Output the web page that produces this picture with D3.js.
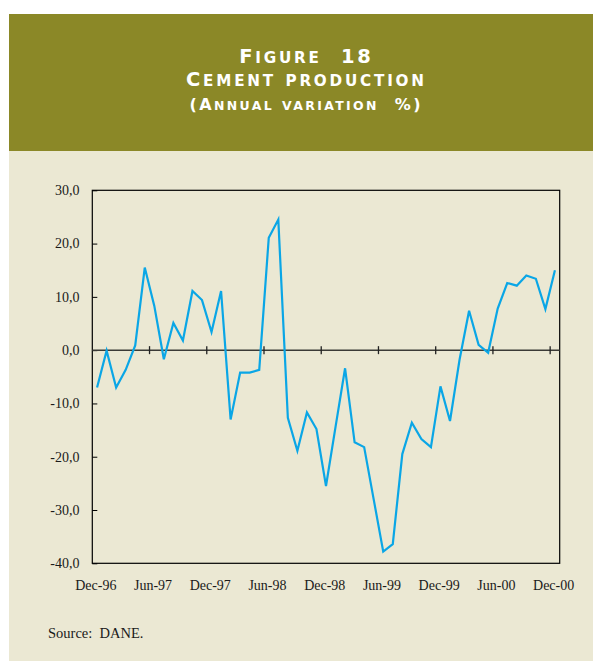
<!DOCTYPE html>
<html>
<head>
<meta charset="utf-8">
<script src="https://cdn.jsdelivr.net/npm/d3@7/dist/d3.min.js"></script>
<style>
  html, body { margin: 0; padding: 0; background: #ffffff; }
  svg { display: block; }
</style>
</head>
<body>
<svg id="chart" width="593" height="661"></svg>
<script>
// ---- data ----
const titleLines = ["Figure  18", "Cement production", "(Annual variation  %)"];
const sourceText = "Source:  DANE.";
const startMonth = new Date(1996, 11, 1);   // Dec-96
const endMonth = new Date(2001, 0, 1);      // exclusive (Jan-01)
const values = [
  -7.0, -0.1, -7.0, -3.7, 0.9, 15.5, 8.3, -1.7, 5.1, 1.8,
  11.1, 9.4, 3.4, 11.1, -13.0, -4.2, -4.2, -3.7, 21.1, 24.5,
  -12.7, -18.9, -11.7, -14.8, -25.5, -14.4, -3.4, -17.3, -18.2, -28.0,
  -37.8, -36.4, -19.5, -13.6, -16.7, -18.2, -6.8, -13.3, -1.8, 7.4,
  1.0, -0.5, 7.8, 12.6, 12.1, 14.0, 13.4, 7.7, 15.0
];
const yTicks = [30, 20, 10, 0, -10, -20, -30, -40];
const xTickLabels = ["Dec-96", "Jun-97", "Dec-97", "Jun-98", "Dec-98", "Jun-99", "Dec-99", "Jun-00", "Dec-00"];

const months = d3.timeMonth.range(startMonth, endMonth);
const fmtMonth = d3.timeFormat("%b-%y");
const data = months.map((m, i) => ({ label: fmtMonth(m), value: values[i] }));

// ---- layout ----
const svg = d3.select("#chart");
const panelX = 9, panelTop = 14, headerBottom = 151, panelBottom = 661, panelRight = 601;
const plot = { left: 92.3, right: 559.7, top: 190.3, bottom: 563.3 };

svg.append("rect").attr("x", panelX).attr("y", headerBottom)
  .attr("width", panelRight - panelX).attr("height", panelBottom - headerBottom)
  .attr("fill", "#ebe8d3");
svg.append("rect").attr("x", panelX).attr("y", panelTop)
  .attr("width", panelRight - panelX).attr("height", headerBottom - panelTop)
  .attr("fill", "#8b8827");

// title (manual small caps)
const titleCfg = [
  { y: 62.7, size: 19.5, len: 131.7 },
  { y: 85.7, size: 19.5, len: 238 },
  { y: 110, size: 16, len: 231 }
];
titleLines.forEach((t, i) => {
  const cfg = titleCfg[i];
  const txt = svg.append("text")
    .attr("x", 305).attr("y", cfg.y)
    .attr("text-anchor", "middle")
    .attr("fill", "#ffffff")
    .attr("font-family", "'DejaVu Sans', sans-serif")
    .attr("font-weight", "bold")
    .style("white-space", "pre")
    .attr("textLength", cfg.len)
    .attr("lengthAdjust", "spacing");
  const runs = [];
  for (const ch of t) {
    const isLower = ch !== ch.toUpperCase();
    const last = runs[runs.length - 1];
    if (last && last.lower === isLower) last.s += ch; else runs.push({ s: ch, lower: isLower });
  }
  runs.forEach(r => {
    txt.append("tspan")
      .attr("font-size", r.lower ? cfg.size * 0.78 : cfg.size)
      .text(r.s.toUpperCase());
  });
});

// scales
const x = d3.scaleBand().domain(data.map(d => d.label))
  .range([plot.left, plot.right]).paddingInner(0).paddingOuter(0);
const y = d3.scaleLinear().domain([-40, 30]).range([plot.bottom, plot.top]);

// frame
svg.append("rect")
  .attr("x", plot.left).attr("y", plot.top)
  .attr("width", plot.right - plot.left).attr("height", plot.bottom - plot.top)
  .attr("fill", "none").attr("stroke", "#000").attr("stroke-width", 1.2);

// y axis ticks (inside) and labels
const yAxis = d3.axisRight(y).tickValues(yTicks).tickSize(5).tickFormat("");
const gy = svg.append("g").attr("transform", `translate(${plot.left},0)`).call(yAxis);
gy.select(".domain").remove();
gy.selectAll(".tick line").attr("stroke", "#000").attr("stroke-width", 1);

svg.append("g").selectAll("text").data(yTicks).join("text")
  .attr("x", 79.5).attr("y", d => y(d))
  .attr("dy", "0.35em")
  .attr("text-anchor", "end")
  .attr("font-family", "'Liberation Serif', 'Times New Roman', serif")
  .attr("font-size", 14)
  .attr("fill", "#1a1a1a")
  .text(d => d3.format(".1f")(d).replace(".", ",").replace("−", "-"));

// zero line
svg.append("line")
  .attr("x1", plot.left).attr("x2", plot.right)
  .attr("y1", y(0)).attr("y2", y(0))
  .attr("stroke", "#3a3a36").attr("stroke-width", 1.5);

// x ticks on zero line
const tickMonths = data.filter(d => xTickLabels.includes(d.label)).map(d => d.label);
svg.append("g").selectAll("line").data(tickMonths.filter(l => l !== xTickLabels[0])).join("line")
  .attr("x1", d => x(d)).attr("x2", d => x(d))
  .attr("y1", y(0) - 4).attr("y2", y(0) + 4)
  .attr("stroke", "#222").attr("stroke-width", 1.3);

// x labels
svg.append("g").selectAll("text").data(tickMonths).join("text")
  .attr("x", d => x(d) + 3.5).attr("y", 589.5)
  .attr("text-anchor", "middle")
  .attr("font-family", "'Liberation Serif', 'Times New Roman', serif")
  .attr("font-size", 14)
  .attr("fill", "#1a1a1a")
  .text(d => d);

// line
const line = d3.line()
  .x(d => x(d.label) + x.bandwidth() / 2)
  .y(d => y(d.value));
svg.append("path").datum(data)
  .attr("d", line)
  .attr("fill", "none")
  .attr("stroke", "#0aa6e6")
  .attr("stroke-width", 2.2)
  .attr("stroke-linejoin", "miter");

// source
svg.append("text")
  .attr("x", 48).attr("y", 638)
  .attr("font-family", "'Liberation Serif', 'Times New Roman', serif")
  .attr("font-size", 14.5)
  .attr("fill", "#1a1a1a")
  .style("white-space", "pre")
  .text(sourceText);
</script>
</body>
</html>
